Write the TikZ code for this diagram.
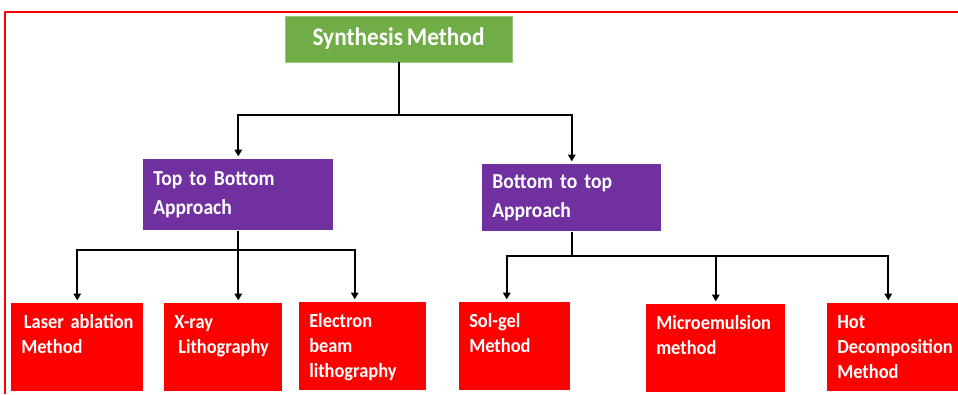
\documentclass[tikz,border=0pt]{standalone}
\usepackage{fontspec}
\setmainfont{Carlito}[FakeStretch=0.92, WordSpace=0.7]
\usepackage{tikz}
\usetikzlibrary{arrows.meta, positioning, calc}
\definecolor{sgreen}{HTML}{70AD47}
\definecolor{spurple}{HTML}{7030A0}
\definecolor{sred}{HTML}{FF0000}
\hyphenpenalty=10000
\hbadness=10000
\hfuzz=20pt

\begin{document}
\begin{tikzpicture}[x=0.75pt, y=-0.75pt,
  rootbox/.style={fill=sgreen, draw=sgreen!70!white, text=white,
    font=\fontsize{19}{22}\selectfont\bfseries,
    minimum width=170pt, minimum height=34.5pt, inner sep=0pt},
  approachbox/.style={fill=spurple, text=white,
    font=\fontsize{16}{21.75}\selectfont\bfseries,
    align=left, anchor=north west, inner xsep=7.5pt},
  methodbox/.style={fill=sred, text=white,
    font=\fontsize{15}{18.75}\selectfont\bfseries,
    align=left, anchor=north west, inner xsep=7.5pt, inner ysep=3pt,
    text height=16pt, text depth=44pt},
  link/.style={line width=1.5pt},
  arrowlink/.style={link, -{Triangle[length=5pt, width=5.5pt]}, shorten >=2pt}]
\useasboundingbox (0,0) rectangle (958,394);
\fill[white] (0,0) rectangle (958,394);
\draw[sred, line width=1.1pt] (5,394) |- (958,12);
% root
\node[rootbox] (synth) at (398.5,39) {Synthesis Method};
% approaches
\node[approachbox, text width=127.5pt, minimum height=53.25pt] (topdown) at (143,159) {Top to Bottom\\Approach};
\node[approachbox, text width=119.25pt, minimum height=50.25pt] (bottomup) at (482,164) {Bottom to top\\Approach};
% methods
\node[methodbox, text width=84pt] (laser) at (11,303) {\kern2pt Laser~ablation\\Method};
\node[methodbox, text width=73.5pt] (xray) at (164,303) {X-ray\\\leavevmode\kern3pt Lithography};
\node[methodbox, text width=80.25pt] (ebeam) at (299,302) {Electron\\beam\\lithography};
\node[methodbox, text width=68.25pt] (solgel) at (459,302) {Sol-gel\\Method};
\node[methodbox, text width=89.25pt] (micro) at (646,304) {Microemulsion\\method};
\node[methodbox, text width=90pt] (hotdec) at (827,303) {Hot\\Decomposition\\Method};
% connectors
\coordinate (fork) at ($(synth.south)+(0,53)$);
\draw[link] (synth.south) -- (fork);
\draw[arrowlink] (fork) -| (topdown.north);
\draw[arrowlink] (fork) -| (bottomup.north);
\coordinate (tdfork) at ($(topdown.south)+(0,19)$);
\draw[link] (topdown.south) -- (tdfork);
\draw[arrowlink] (tdfork) -| (laser.north);
\draw[arrowlink] (tdfork) -- (tdfork |- xray.north);
\draw[arrowlink] (tdfork) -| ($(ebeam.north)+(-8,0)$);
\coordinate (bufork) at ($(bottomup.south)+(0,24)$);
\draw[link] (bottomup.south) -- (bufork);
\draw[arrowlink] (bufork) -| ($(solgel.north)+(-8,0)$);
\draw[arrowlink] (bufork) -| (micro.north);
\draw[arrowlink] (bufork) -| ($(hotdec.north)+(-9,0)$);
\end{tikzpicture}
\end{document}
